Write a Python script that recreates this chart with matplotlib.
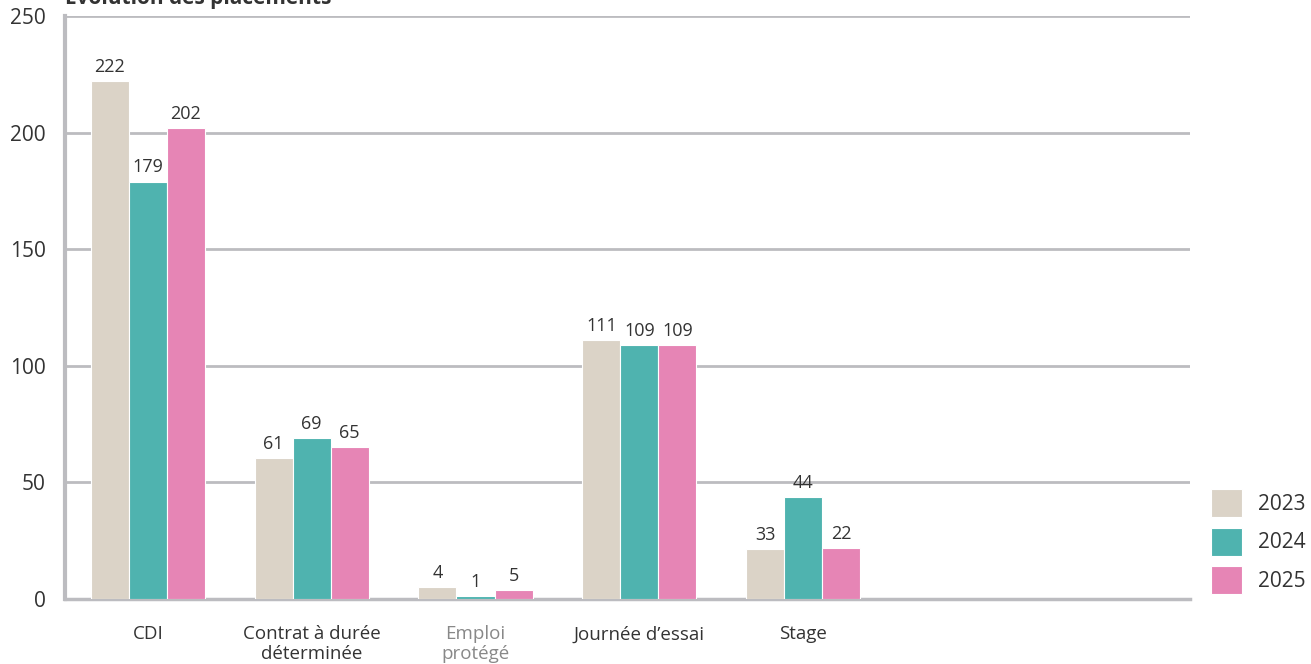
import numpy as np
import matplotlib.pyplot as plt

plt.rcParams['font.family'] = ['Open Sans', 'DejaVu Sans']

categories = ["CDI", "Contrat à durée\ndéterminée", "Emploi\nprotégé", "Journée d’essai", "Stage"]
years = ["2023", "2024", "2025"]
# hauteurs des barres
heights = {
    "2023": [222, 60.5, 5, 111, 21.5],
    "2024": [179, 69, 1.2, 109, 43.7],
    "2025": [202, 65, 3.8, 109, 22],
}
# étiquettes affichées au-dessus des barres
labels = {
    "2023": ["222", "61", "4", "111", "33"],
    "2024": ["179", "69", "1", "109", "44"],
    "2025": ["202", "65", "5", "109", "22"],
}
colors = {"2023": "#dbd3c7", "2024": "#4fb3af", "2025": "#e685b5"}

fig = plt.figure(figsize=(13.11, 6.64), dpi=100)
ax = fig.add_axes([65 / 1311, 65 / 664, 1125 / 1311, 583 / 664])

x = np.arange(len(categories))
width = 0.232
for i, year in enumerate(years):
    pos = x + (i - 1) * width
    bars = ax.bar(pos, heights[year], width, color=colors[year],
                  edgecolor="white", linewidth=0.8, label=year, zorder=3)
    for b, lab in zip(bars, labels[year]):
        ax.text(b.get_x() + b.get_width() / 2, b.get_height() + 2.2, lab,
                ha="center", va="bottom", fontsize=13, color="#333333", zorder=4)

ax.set_xlim(-0.505, 6.36)
ax.set_ylim(0, 250)
ax.set_yticks([0, 50, 100, 150, 200, 250])
ax.grid(axis="y", color="#bcbcc0", linewidth=2, zorder=0)
ax.set_axisbelow(True)
for s in ["top", "right"]:
    ax.spines[s].set_visible(False)
ax.spines["left"].set_color("#bcbcc0")
ax.spines["left"].set_linewidth(3)
ax.spines["bottom"].set_color("#bcbcc0")
ax.spines["bottom"].set_linewidth(2.5)
ax.tick_params(length=0, labelsize=15, colors="#333333")
ax.tick_params(axis="y", pad=14)
ax.tick_params(axis="x", pad=19)

ax.set_xticks(x)
ax.set_xticklabels(categories, fontsize=13.5, linespacing=1.15)
for t, cat in zip(ax.get_xticklabels(), categories):
    t.set_color("#888888" if cat.startswith("Emploi") else "#333333")

leg = ax.legend(loc="lower left", bbox_to_anchor=(1.002, -0.024), frameon=False,
                fontsize=15, handlelength=1.5, handleheight=1.7,
                labelspacing=0.5, handletextpad=0.75, labelcolor="#333333")

fig.text(65 / 1311, 1 - 4 / 664, "Évolution des placements", fontsize=15,
         fontweight="bold", color="#333333", va="baseline")

fig.savefig("out.png", dpi=100)
